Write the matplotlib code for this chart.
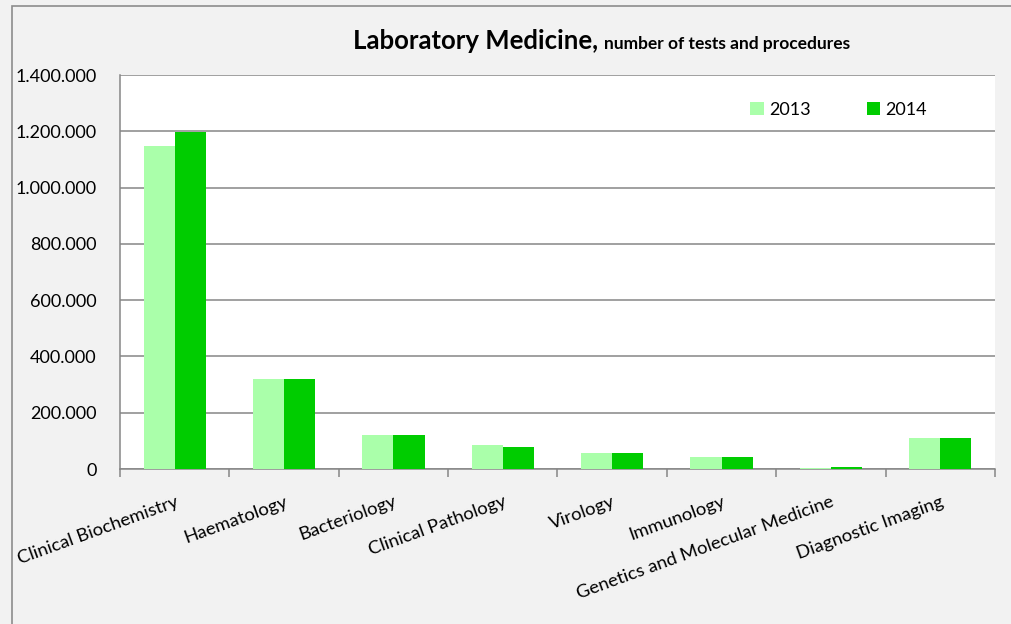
import numpy as np
import matplotlib
matplotlib.use("Agg")
import matplotlib.pyplot as plt
import matplotlib.ticker as ticker
from matplotlib.patches import Rectangle

plt.rcParams['font.family'] = ['Lato', 'DejaVu Sans']

categories = ["Clinical Biochemistry", "Haematology", "Bacteriology", "Clinical Pathology",
              "Virology", "Immunology", "Genetics and Molecular Medicine", "Diagnostic Imaging"]
series_names = ["2013", "2014"]
values_2013 = [1148000, 320000, 122000, 85000, 58000, 42000, 5000, 111000]
values_2014 = [1197000, 320000, 122000, 79000, 58000, 42000, 6000, 111000]
y_ticks = [0, 200000, 400000, 600000, 800000, 1000000, 1200000, 1400000]

W, H = 1012, 624
fig = plt.figure(figsize=(W / 100, H / 100), dpi=100)
fig.patch.set_facecolor('#f2f2f2')

# chart border (only left and top visible in the reference)
fig.patches.append(Rectangle((12 / W, -0.05), 1.0, (H - 6) / H + 0.05, transform=fig.transFigure,
                             fill=False, edgecolor='#8c8c8c', linewidth=1.2))

ax = fig.add_axes([120 / W, 1 - 469 / H, (995 - 120) / W, (469 - 75) / H])
ax.set_facecolor('white')

x = np.arange(len(categories))
bw = 0.285
ax.bar(x - bw / 2, values_2013, bw, color='#aaffaa', label=series_names[0], zorder=3)
ax.bar(x + bw / 2, values_2014, bw, color='#00cc00', label=series_names[1], zorder=3)

ax.set_xlim(-0.5, len(categories) - 0.5)
ax.set_ylim(0, 1400000)
ax.set_yticks(y_ticks)
ax.yaxis.set_major_formatter(ticker.FuncFormatter(lambda v, p: f"{int(v):,}".replace(",", ".")))
ax.yaxis.grid(True, color='#868686', linewidth=1.1, zorder=0)
ax.tick_params(axis='y', length=0, pad=17, labelsize=13, labelcolor='black')

ax.set_xticks(np.arange(len(categories) + 1) - 0.5)
ax.set_xticklabels([])
ax.tick_params(axis='x', length=6, width=1.1, color='#868686', direction='out')
for i, c in enumerate(categories):
    ax.text(i, -0.062, c, transform=ax.get_xaxis_transform(), rotation=20, rotation_mode='anchor',
            ha='right', va='top', fontsize=13.3)

for s in ['top', 'right']:
    ax.spines[s].set_visible(False)
for s in ['left', 'bottom']:
    ax.spines[s].set_color('#868686')
    ax.spines[s].set_linewidth(1.1)

ax.legend(loc='center left', bbox_to_anchor=((750 - 120) / 875, (469 - 110) / 394), ncol=2,
          frameon=False, fontsize=13, handlelength=0.75, handleheight=0.75, columnspacing=3.1,
          handletextpad=0.3, borderpad=0, borderaxespad=0)

t1 = fig.text(353 / W, 1 - 49 / H, "Laboratory Medicine,", fontsize=18.5, fontweight='bold',
              ha='left', va='baseline')
fig.canvas.draw()
bb = t1.get_window_extent()
fig.text((bb.x1 + 6) / W, 1 - 49 / H, "number of tests and procedures", fontsize=12.5,
         fontweight='bold', ha='left', va='baseline')

fig.savefig('out.png', dpi=100, facecolor=fig.get_facecolor())
